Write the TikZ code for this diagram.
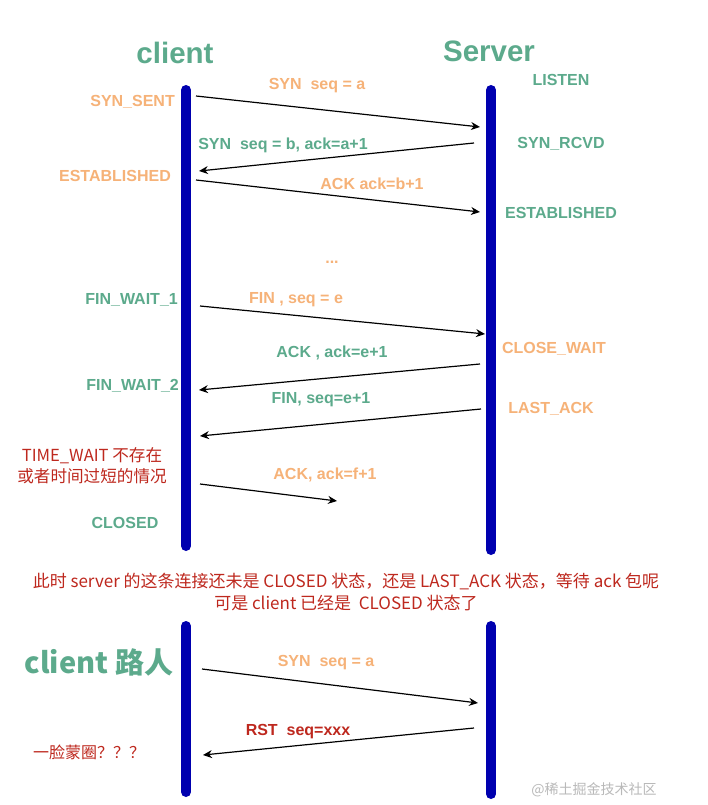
\documentclass[tikz,border=0pt]{standalone}
\usepackage{fontspec}
\setmainfont{Liberation Sans}
\newfontfamily\cjk{Noto Sans CJK SC}
\usetikzlibrary{arrows.meta}
\definecolor{tgreen}{RGB}{92,170,140}
\definecolor{torange}{RGB}{246,178,120}
\definecolor{tred}{RGB}{190,40,30}
\definecolor{tblue}{RGB}{0,0,175}
\definecolor{tgray}{RGB}{185,185,185}
\begin{document}
\begin{tikzpicture}[x=1pt,y=-1pt,
  lbl/.style={font=\fontsize{16}{19}\selectfont\bfseries, inner sep=0pt},
  gl/.style={lbl, text=tgreen},
  ol/.style={lbl, text=torange},
  title/.style={font=\fontsize{29.5}{32}\selectfont\bfseries, text=tgreen, inner sep=0pt},
  rednote/.style={font=\cjk\fontsize{16.6}{21}\selectfont, text=tred, inner sep=0pt, align=center},
  life/.style={line width=10pt, tblue, line cap=round},
  msg/.style={line width=1.2pt, -{Stealth[length=9pt,width=8pt]}}
]
\useasboundingbox[fill=white] (0,0) rectangle (708,805);

% titles
\node[title] (tc) at (175,53) {client};
\node[title] (ts) at (489,51) {Server};

% lifelines (top part)
\coordinate (cT) at (186,90);
\coordinate (cB) at (186,546);
\coordinate (sT) at (491,90);
\coordinate (sB) at (491,550);
\draw[life] (cT) -- (cB);
\draw[life] (sT) -- (sB);

% state labels
\node[ol, anchor=east] (synsent) at (175,102) {SYN\_SENT};
\node[gl] (listen) at (561,80) {LISTEN};
\node[gl] (synrcvd) at (561,144) {SYN\_RCVD};
\node[ol, anchor=east] (estc) at (171,176) {ESTABLISHED};
\node[gl] (ests) at (561,213) {ESTABLISHED};
\node[gl, anchor=east] (fw1) at (178,300) {FIN\_WAIT\_1};
\node[ol] (cw) at (554,349) {CLOSE\_WAIT};
\node[gl, anchor=east] (fw2) at (179,386) {FIN\_WAIT\_2};
\node[ol] (lack) at (551,409) {LAST\_ACK};
\node[rednote] (tw) at (92,466) {TIME\_WAIT 不存在\\或者时间过短的情况};
\node[gl] (closed) at (125,523) {CLOSED};
\node[ol] (dots) at (332,262) {...};

% message endpoints
\coordinate (a1s) at (196,96);  \coordinate (a1e) at (480,127);
\coordinate (a2s) at (474,143); \coordinate (a2e) at (199,171);
\coordinate (a3s) at (196,180); \coordinate (a3e) at (480,212);
\coordinate (a4s) at (200,306); \coordinate (a4e) at (485,334);
\coordinate (a5s) at (480,364); \coordinate (a5e) at (199,390);
\coordinate (a6s) at (481,409); \coordinate (a6e) at (200,436);
\coordinate (a7s) at (200,484); \coordinate (a7e) at (337,501);

\draw[msg] (a1s) -- (a1e);
\draw[msg] (a2s) -- (a2e);
\draw[msg] (a3s) -- (a3e);
\draw[msg] (a4s) -- (a4e);
\draw[msg] (a5s) -- (a5e);
\draw[msg] (a6s) -- (a6e);
\draw[msg] (a7s) -- (a7e);

% message labels
\node[ol] (m1) at (317,86) {SYN\ \ seq = a};
\node[gl] (m2) at (283,145) {SYN\ \ seq = b, ack=a+1};
\node[ol] (m3) at (372,184) {ACK ack=b+1};
\node[ol] (m4) at (296,300) {FIN , seq = e};
\node[gl] (m5) at (332,353) {ACK , ack=e+1};
\node[gl] (m6) at (321,400) {FIN, seq=e+1};
\node[ol] (m7) at (325,475) {ACK, ack=f+1};

% middle note
\node[rednote, font=\cjk\fontsize{17}{21.5}\selectfont] (note) at (346,592) {此时 server 的这条连接还未是 CLOSED 状态，还是 LAST\_ACK 状态，等待 ack 包呢\\可是 client 已经是\ \ CLOSED 状态了};

% bottom part
\coordinate (c2T) at (186,626);
\coordinate (c2B) at (186,792);
\coordinate (s2T) at (491,626);
\coordinate (s2B) at (491,794);
\draw[life] (c2T) -- (c2B);
\draw[life] (s2T) -- (s2B);

\node[title, font=\cjk\fontsize{29}{32}\selectfont\bfseries] (passer) at (99,662) {client 路人};
\node[rednote, font=\cjk\fontsize{16}{20}\selectfont] (confused) at (89,752) {一脸蒙圈？？？};

\coordinate (b1s) at (202,669); \coordinate (b1e) at (478,703);
\coordinate (b2s) at (474,728); \coordinate (b2e) at (203,755);
\draw[msg] (b1s) -- (b1e);
\draw[msg] (b2s) -- (b2e);
\node[ol] (bm1) at (326,663) {SYN\ \ seq = a};
\node[lbl, text=tred] (bm2) at (298,732) {RST\ \ seq=xxx};

\node[font=\cjk\fontsize{14}{16}\selectfont, text=tgray, inner sep=0pt] (wm) at (594,790) {@稀土掘金技术社区};
\end{tikzpicture}
\end{document}
